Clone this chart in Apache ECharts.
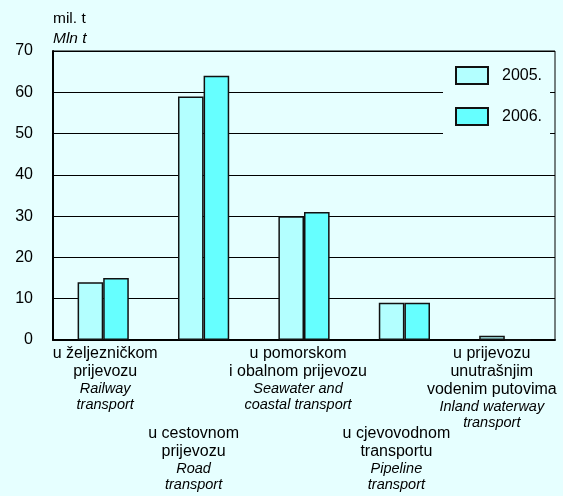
<!DOCTYPE html>
<html><head><meta charset="utf-8">
<script src="https://cdn.jsdelivr.net/npm/echarts@6/dist/echarts.min.js"></script>
<style>html,body{margin:0;padding:0;background:#E6FFFF}#c{width:563px;height:496px}</style>
</head><body><div id="c"></div>
<script>
var categoriesHr = [['u željezničkom','prijevozu'],['u cestovnom','prijevozu'],['u pomorskom','i obalnom prijevozu'],['u cjevovodnom','transportu'],['u prijevozu','unutrašnjim','vodenim putovima']];
var categoriesEn = [['Railway','transport'],['Road','transport'],['Seawater and','coastal transport'],['Pipeline','transport'],['Inland waterway','transport']];
var seriesNames = ['2005.','2006.'];
var values2005 = [14, 59, 30, 9, 1];
var values2006 = [15, 64, 31, 9, 0];
var yTicks = [0,10,20,30,40,50,60,70];

var bg = '#E6FFFF';
var font = 'Arial, "Liberation Sans", sans-serif';
var shifts = [2, -10, -6, -8, -13];
var lowerRow = [false, true, false, true, false];
var rich = {sp:{lineHeight:80, fontSize:10}};
shifts.forEach(function(s,i){
  var pad = s >= 0 ? [0,0,0,2*s] : [0,-2*s,0,0];
  rich['n'+i] = {fontSize:16, lineHeight:18, color:'#000', fontFamily:font, padding:pad};
  rich['i'+i] = {fontSize:14.5, lineHeight:16, color:'#000', fontStyle:'italic', fontFamily:font, padding:pad};
});
var cats = categoriesHr.map(function(c,i){return 'c'+i;});
var chart = echarts.init(document.getElementById('c'));
chart.setOption({
  backgroundColor: bg,
  animation: false,
  title: {text:'{a|mil. t}\n{b|Mln t}', left: 48, top: 4, textStyle:{rich:{a:{fontSize:15.5,lineHeight:20,color:'#000',fontWeight:'normal',fontFamily:font},b:{fontSize:15.5,lineHeight:20,color:'#000',fontWeight:'normal',fontStyle:'italic',fontFamily:font}}}},
  legend: {data: seriesNames, orient:'vertical', left:443, top:52, backgroundColor:bg, padding:[14,8,23,12],
    itemWidth:32, itemHeight:17, itemGap:22, icon:'rect',
    textStyle:{fontSize:16, color:'#000', fontFamily:font, padding:[0,0,0,9]}},
  grid: {left:53, right:8, top:51, bottom:156, show:true, borderColor:'#000', borderWidth:1, backgroundColor:bg, outerBoundsMode:'none', containLabel:false},
  xAxis: {type:'category', data:cats,
    axisLine:{lineStyle:{color:'#000', width:2}}, axisTick:{show:false},
    axisLabel:{interval:0, margin:5, formatter:function(v, idx){
      var lines = [];
      if (lowerRow[idx]) lines.push('{sp| }');
      categoriesHr[idx].forEach(function(t){lines.push('{n'+idx+'|'+t+'}');});
      categoriesEn[idx].forEach(function(t){lines.push('{i'+idx+'|'+t+'}');});
      return lines.join('\n');
    }, rich: rich}},
  yAxis: {type:'value', min:yTicks[0], max:yTicks[yTicks.length-1], interval:10,
    axisLine:{show:true, lineStyle:{color:'#000', width:2}}, axisTick:{show:false},
    axisLabel:{fontSize:16, color:'#000', fontFamily:font, margin:20},
    splitLine:{lineStyle:{color:'#000', width:1}}},
  series: [
    {name:seriesNames[0], type:'bar', data:values2005, barGap:'0%', barCategoryGap:'49%',
      itemStyle:{color:'#B3FFFF', borderColor:'#111', borderWidth:1.5}},
    {name:seriesNames[1], type:'bar', data:values2006, barGap:'0%', barCategoryGap:'49%',
      itemStyle:{color:'#66FFFF', borderColor:'#111', borderWidth:1.5}}
  ]
});
</script></body></html>
